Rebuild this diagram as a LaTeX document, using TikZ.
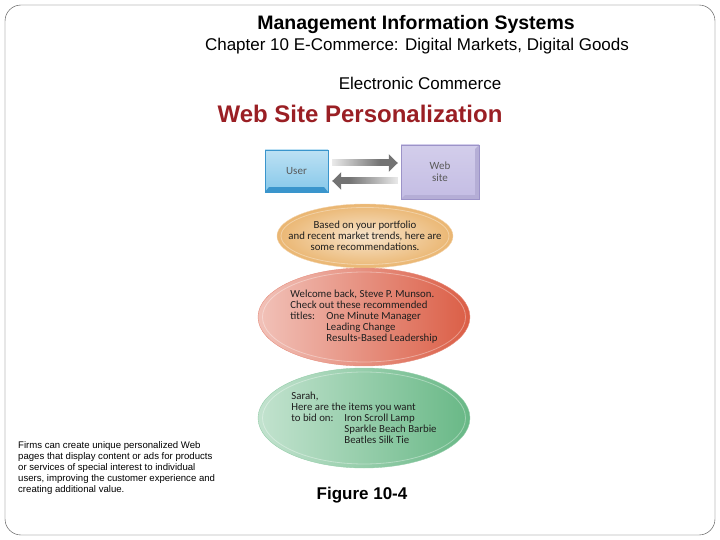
\documentclass[tikz,border=0pt]{standalone}
\usepackage{fontspec}
\setmainfont{Liberation Sans}
\newfontfamily\figfont{Carlito}
\usetikzlibrary{shapes,arrows.meta,calc,positioning,fadings}
\definecolor{mistitle}{HTML}{9A1F24}
\definecolor{userblue}{HTML}{86C8EA}
\definecolor{userdark}{HTML}{3A95CC}
\definecolor{sitelav}{HTML}{C4BDE4}
\definecolor{sitedark}{HTML}{9C93C8}
\definecolor{recorange}{HTML}{E8AE62}
\definecolor{recred}{HTML}{DB5E46}
\definecolor{recgreen}{HTML}{68B886}

\begin{document}
\begin{tikzpicture}[x=1pt,y=-1pt,
  box/.style={rectangle, inner sep=0pt, font=\figfont\fontsize{11}{12}\selectfont, text=black!65, align=center},
  bubble/.style={ellipse, inner sep=0pt, inner xsep=-6pt, font=\figfont\fontsize{10.8}{11}\selectfont, text=black!88},
  rim/.style={ellipse, draw=white, opacity=.35, line width=.8pt},
  flow/.style={line width=7pt, draw=black!55, -{Triangle[length=9pt,width=17pt]}}]
\useasboundingbox (0,0) rectangle (720,540);
\draw[rounded corners=16pt, black!75] (5,5) rectangle (715,535);

\node (mis) at (416,25) {\fontsize{19.5}{22}\selectfont\bfseries Management Information Systems};
\node (chap) at (417,46) {\fontsize{17}{19}\selectfont Chapter 10 E-Commerce: Digital Markets, Digital Goods};
\node (ec) at (420,83) {\fontsize{17}{19}\selectfont Electronic Commerce};
\node[text=mistitle] (wsp) at (360,114) {\fontsize{24}{26}\selectfont\bfseries Web Site Personalization};

\node[box, minimum width=63pt, minimum height=42pt, top color=userblue!55, bottom color=userblue, draw=userdark] (user) at (296.5,171) {User};
\fill[userdark] (user.south west) -- (user.south east) -- ([shift={(-4,-5)}]user.south east) -- ([shift={(4,-5)}]user.south west) -- cycle;

\node[box, minimum width=78pt, minimum height=54pt, top color=sitelav!75, bottom color=sitelav, draw=sitedark] (site) at (440,172) {Web\\site};
\fill[sitedark!75] (site.south west) -- (site.south east) -- (site.north east) -- ([shift={(-4,4)}]site.north east) -- ([shift={(-4,-4)}]site.south east) -- ([shift={(4,-4)}]site.south west) -- cycle;
\draw[sitedark] (site.south west) rectangle (site.north east);

\draw[flow, shorten <=4pt, shorten >=3pt] ([yshift=8pt]user.east) -- ([yshift=9pt]site.west);
\draw[flow, shorten <=3pt, shorten >=4pt] ([yshift=-9pt]site.west) -- ([yshift=-10pt]user.east);
\fill[white, opacity=.85, path fading=east] ($(user.east)+(4,-12)$) rectangle ($(user.east)+(52,-4)$);
\fill[white, opacity=.85, path fading=west] ($(site.west)+(-52,5)$) rectangle ($(site.west)+(-3,13)$);

\node[bubble, inner xsep=-17pt, minimum width=176pt, minimum height=64pt, inner color=recorange!32, outer color=recorange!90, draw=recorange!55, align=center] (portfolio) at (365,236) {Based on your portfolio\\and recent market trends, here are\\some recommendations.};
\node[rim, minimum width=168pt, minimum height=57pt] at (portfolio) {};

\node[bubble, minimum width=212pt, minimum height=98pt, left color=recred!38, right color=recred, draw=recred!70, align=left] (munson) at (364,317) {Welcome back, Steve P. Munson.\\Check out these recommended\\\makebox[36pt][l]{titles:}One Minute Manager\\\hspace*{36pt}Leading Change\\\hspace*{36pt}Results-Based Leadership};
\node[rim, minimum width=203pt, minimum height=90pt] at (munson) {};

\node[bubble, minimum width=212pt, minimum height=100pt, left color=recgreen!40, right color=recgreen, draw=recgreen!70, align=left] (sarah) at (364,418) {Sarah,\\Here are the items you want\\\makebox[53pt][l]{to bid on:}Iron Scroll Lamp\\\hspace*{53pt}Sparkle Beach Barbie\\\hspace*{53pt}Beatles Silk Tie};
\node[rim, minimum width=203pt, minimum height=92pt] at (sarah) {};

\node[anchor=north west, align=left, inner sep=0pt, font=\fontsize{9.6}{11.1}\selectfont] (note) at (18,441) {Firms can create unique personalized Web\\pages that display content or ads for products\\or services of special interest to individual\\users, improving the customer experience and\\creating additional value.};
\node (fig) at (362,495) {\fontsize{17}{19}\selectfont\bfseries Figure 10-4};
\end{tikzpicture}
\end{document}
